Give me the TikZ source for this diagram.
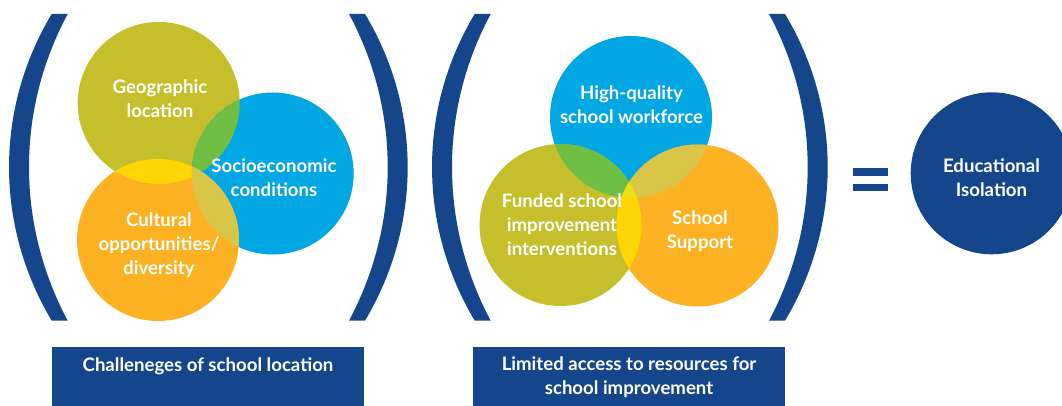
\documentclass[tikz,border=0pt]{standalone}
\usepackage{fontspec}
\setmainfont{Lato}
\definecolor{navy}{HTML}{15468C}
\definecolor{sky}{HTML}{00A7E3}
\definecolor{olive2}{HTML}{C4BF2A}
\definecolor{amber}{HTML}{FCB223}
\definecolor{ovgreen}{HTML}{70BF44}
\definecolor{ovyellow}{HTML}{FFD503}
\definecolor{ovkhaki}{HTML}{D9C547}
\definecolor{ovtriple}{HTML}{EEE010}
\tikzset{
  disc/.style={circle,inner sep=0pt,minimum size=162pt},
  label/.style={text=white,font=\bfseries\fontsize{18.6}{24}\selectfont,align=center,inner sep=0pt},
  banner/.style={fill=navy,inner sep=0pt,minimum width=312pt,minimum height=59pt,anchor=north west},
  bar/.style={fill=navy,inner sep=0pt,minimum width=35.5pt,minimum height=7.7pt},
  paren/.pic={\fill[navy] (51.7,14) .. controls (-5.2,108.7) and (-5.2,225.3) .. (51.7,320.7)
     -- (67.7,320.7) .. controls (16.1,224) and (16.1,110) .. (67.7,14) -- cycle;}
}
\begin{document}
\begin{tikzpicture}[x=1pt,y=-1pt]
\useasboundingbox (0,0) rectangle (1062,406);
\clip (0,0) rectangle (1062,406);
\fill[white] (0,0) rectangle (1062,406);
% parentheses
\pic at (0,0) {paren};
\pic[xscale=-1] at (416.7,0) {paren};
\pic at (423,0) {paren};
\pic[xscale=-1] at (836.7,0) {paren};
% left group
\node[disc,fill=olive2] (geo) at (158.7,103) {};
\node[disc,fill=sky] (soc) at (272.7,173.5) {};
\node[disc,fill=amber] (cul) at (158,240) {};
\begin{scope}
  \clip (158.7,103) circle (81);
  \fill[ovgreen] (272.7,173.5) circle (81);
  \fill[ovyellow] (158,240) circle (81);
\end{scope}
\begin{scope}
  \clip (272.7,173.5) circle (81);
  \fill[ovkhaki] (158,240) circle (81);
\end{scope}
% right group
\node[disc,fill=sky] (hq) at (631,117) {};
\node[disc,fill=olive2] (fund) at (560.6,225) {};
\node[disc,fill=amber] (sup) at (697.5,225.5) {};
\begin{scope}
  \clip (631,117) circle (81);
  \fill[ovgreen] (560.6,225) circle (81);
  \fill[ovkhaki] (697.5,225.5) circle (81);
\end{scope}
\begin{scope}
  \clip (560.6,225) circle (81);
  \fill[ovyellow] (697.5,225.5) circle (81);
  \clip (697.5,225.5) circle (81);
  \fill[ovtriple] (631,117) circle (81);
\end{scope}
% result
\node[bar] (eqa) at (870.3,171.8) {};
\node[bar] (eqb) at (870.3,187.5) {};
\node[disc,fill=navy] (iso) at (991.7,173.3) {};
% labels
\node[label] (tgeo) at (160,99) {Geographic\\location};
\node[label] (tsoc) at (274,178) {Socioeconomic\\conditions};
\node[label] (tcul) at (159,245) {Cultural\\opportunities/\\diversity};
\node[label] (thq) at (631.5,104.5) {High-quality\\school workforce};
\node[label] (tfund) at (562,225) {Funded school\\improvement\\interventions};
\node[label] (tsup) at (700,231) {School\\Support};
\node[label] (tiso) at (991.5,178) {Educational\\Isolation};
% banners
\node[banner] (b1) at (52,347) {};
\node[banner] (b2) at (473,347) {};
\node[label] (tb1) at (208,366) {Challeneges of school location};
\node[label] (tb2) at (629,377.5) {Limited access to resources for\\school improvement};
\end{tikzpicture}
\end{document}
